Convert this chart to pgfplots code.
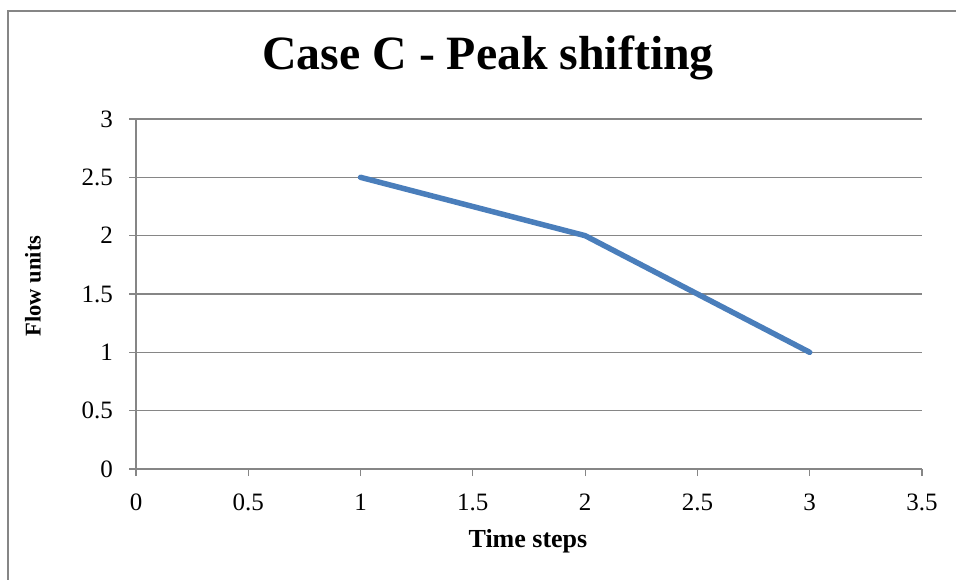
\documentclass[border=0pt]{standalone}
\usepackage{fontspec}
\setmainfont{Liberation Serif}
\usepackage{pgfplots}
\pgfplotsset{compat=1.18}
\definecolor{gridgray}{RGB}{134,134,134}
\definecolor{lineblue}{RGB}{74,126,187}
\begin{document}
\begin{tikzpicture}[x=1pt,y=1pt]
\useasboundingbox (0,0) rectangle (956,579);
\begin{scope}
\clip (0,0) rectangle (956,579);
\draw[gridgray, line width=1.2pt] (8,-10) rectangle (980,568);
\begin{axis}[
  at={(136pt,110pt)}, anchor=south west,
  scale only axis, width=786pt, height=350pt,
  xmin=0, xmax=3.5, ymin=0, ymax=3,
  xtick={0,0.5,...,3.5}, ytick={0,0.5,...,3},
  axis lines*=left,
  axis line style={gridgray, line width=1.2pt, -},
  tick align=outside,
  major tick length=7pt,
  tick style={gridgray, line width=1.2pt},
  ymajorgrids, major grid style={gridgray, line width=1.2pt},
  /pgf/number format/assume math mode=true,
  ticklabel style={font=\fontsize{25}{30}\selectfont},
  xticklabel style={inner sep=0pt, yshift=-18pt},
  yticklabel style={inner sep=0pt, xshift=-16pt},
  xlabel={\textbf{Time steps}},
  ylabel={\textbf{Flow units}},
  xlabel style={font=\fontsize{26}{30}\selectfont, at={(rel axis cs:0.4987,-0.2257)}, anchor=base},
  ylabel style={font=\fontsize{22.5}{28}\selectfont, at={(rel axis cs:-0.131,0.523)}, anchor=center, rotate=0},
  title={\textbf{Case C - Peak shifting}},
  title style={font=\fontsize{47.8}{54}\selectfont, at={(rel axis cs:0.448,1.123)}, anchor=base},
  clip=false,
]
\addplot[lineblue, line width=5.5pt, line cap=round, line join=round] coordinates {(1,2.5) (2,2) (3,1)};
\end{axis}
\end{scope}
\end{tikzpicture}
\end{document}
